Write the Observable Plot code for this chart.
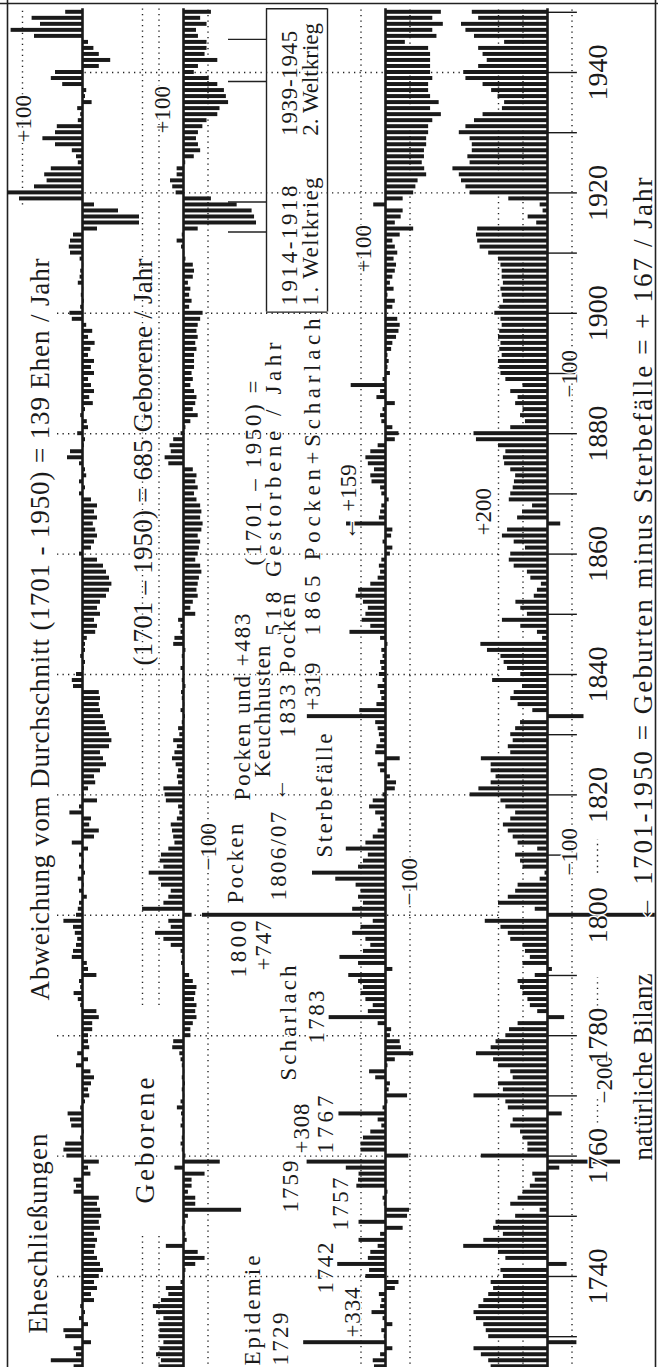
<!DOCTYPE html>
<html><head><meta charset="utf-8">
<script src="https://cdn.jsdelivr.net/npm/d3@7"></script>
<script src="https://cdn.jsdelivr.net/npm/@observablehq/plot@0.6"></script>
<style>
html,body{margin:0;padding:0;background:#fff;}
#chart{position:relative;width:658px;height:1367px;overflow:hidden;background:#fff;}
#chart svg{position:absolute;left:0;top:0;}
</style></head><body><div id="chart"></div>
<script>
// ---------- data (deviation from the 1701-1950 average, per year) ----------
const firstYear = 1725;
const eheschliessungen = [
  14, 52, 10, 14, -15, 28, 31, -10, 5, -5,
  3, -20, -15, -25, -20, -28, -35, -30, -25, -20,
  -22, -25, -20, -30, -28, -32, -30, -25, -28, 14,
  10, 14, -14, -10, -28, 26, 31, 28, 3, -3,
  18, 20, 24, 3, -5, -12, -10, -15, -20, -14,
  10, -10, 8, -12, -10, -10, -17, -17, -28, -24,
  3, 7, 14, 3, 5, -24, -10, -8, 17, 15,
  10, 8, 12, 15, 31, 10, 7, 5, -8, 5,
  -3, 7, -5, 5, -3, 5, -10, 17, -20, -28,
  -12, -15, 21, 5, -25, -3, -10, -22, -20, -30,
  -40, -35, -30, -45, -49, -45, -40, -38, -35, -30,
  -28, -30, -28, 15, 17, 10, -3, -5, 3, -5,
  -5, -8, -22, -25, -20, -30, -25, -30, -40, -45,
  -49, -45, -40, -35, -25, 5, -15, -20, -25, -22,
  -18, -25, -20, -25, -15, 5, -5, 5, -7, -5,
  5, 25, 20, -3, -5, 8, -10, -8, 3, -5,
  -18, -12, -20, -15, -10, -20, -15, -20, -10, -14,
  -21, -10, -17, -7, 17, 21, 3, -3, 2, -2,
  7, 4, 3, -2, 4, 20, 22, 20, 15, -25,
  -95, -95, -60, -20, 105, 125, 80, 59, 63, 52,
  7, 10, 17, 45, 66, 45, 42, 7, 3, 8,
  -16, -5, -7, 33, 52, 45, -28, -47, -28, -19,
  -10, 80, 119, 70, 84, 28
];
const geborene = [
  100, 90, 110, 96, 80, 100, 96, 100, 80, 110,
  123, 90, 60, 70, 10, -5, -10, -50, -88, -60,
  70, -15, -10, 5, -10, -20, -237, -50, -50, -20,
  -35, -35, -88, 35, -150, -10, 5, 10, 5, -5,
  10, 5, 8, 25, 10, -5, 5, -8, 5, -5,
  5, 10, 15, 44, 40, -30, -30, -40, -55, -50,
  -55, -45, -50, -55, -40, -25, -5, 8, 5, 10,
  50, 80, 114, 50, 60, -35, 167, 80, 60, 50,
  90, 100, 140, 80, 95, 90, 60, 35, 40, 45,
  50, 25, 15, 20, 70, 75, 80, 20, 25, 20,
  30, 45, 35, 25, 40, 15, 20, 5, -8, 10,
  -5, 5, 8, -10, 5, -3, 10, -5, 5, -10,
  40, 35, 10, 10, 20, -50, -30, -40, -60, -55,
  -60, -65, -75, -70, -50, -60, -65, -70, -60, -75,
  -80, -70, -75, -70, -55, -45, -60, -50, -55, -40,
  60, 75, 50, 55, 40, 10, -10, -30, -60, -40,
  -50, -55, -45, -30, -40, -35, -45, -45, -45, -55,
  -50, -60, -55, -60, -70, -80, -25, -35, -25, -30,
  -20, -40, -45, -40, -10, -5, 8, 26, 5, -60,
  -298, -290, -280, -219, -114, 30, 44, 53, 26, 26,
  -9, -44, -70, -61, -53, -61, -79, -96, -140, -149,
  -184, -175, -167, -140, -105, -44, -61, -140, -88, -96,
  -96, -61, -53, -96, -70, -114
];
const sterbefaelle = [
  45, 50, 20, -30, 334, 5, 15, -30, 10, 55,
  20, 15, 25, -40, -55, 80, 65, 195, 70, 60,
  30, 108, 20, -72, 108, -90, -98, 5, 10, -10,
  117, 110, 108, 160, 320, -95, 100, 100, 90, 60,
  15, 30, 190, 10, -10, -90, -15, -20, 40, 65,
  -10, -40, -115, -65, -60, -20, -25, 30, 230, 70,
  50, 80, 100, 90, 110, 150, -30, 110, 186, 90,
  60, 80, 134, 100, 50, 747, 134, 90, 110, 100,
  120, 203, 298, 110, 90, 70, 160, 80, 50, 30,
  15, 20, 40, 65, 50, 10, -40, -45, -20, 20,
  30, -60, 40, 35, 20, 25, 30, 40, 319, 105,
  35, 15, 20, 30, 10, 25, 15, 20, 10, 15,
  -10, 20, 145, 60, 95, 80, 70, 90, 120, 110,
  60, 30, 20, 25, 15, -20, -30, 10, -25, -30,
  159, 25, 20, 15, -15, 15, 20, 55, 60, 45,
  70, 80, 60, 30, -40, -55, -30, 15, 20, 10,
  -40, 35, 20, 140, 10, -20, -10, -15, -10, -25,
  -30, -45, -55, -60, -50, -5, -30, -40, -10, -35,
  -20, -30, -40, -45, -35, -50, -40, -30, -60, -115,
  -40, -64, -72, 48, -72, -115, -124, -133, -168, -160,
  -150, -159, -159, -168, -168, -176, -176, -193, -228, -184,
  -219, -184, -176, -176, -193, -184, -184, -184, -184, -176,
  -81, -210, -193, -236, -193, -228
];
const bilanz = [
  230, 240, 270, 300, -120, 240, 250, 260, 290, 300,
  280, 260, 240, 220, 230, 180, 190, -80, 170, 200,
  342, 260, 180, 220, 210, 130, 30, 150, 120, 100,
  70, 50, 60, -50, -298, 270, 80, 80, 100, 110,
  150, 140, -60, 160, 170, 300, 180, 200, 140, 150,
  200, 220, 290, 230, 210, 170, 155, 120, -70, 40,
  70, 80, 100, 110, 120, 50, -20, 100, 70, 90,
  100, 150, 160, 190, 254, -440, 50, 200, 160, 130,
  120, 30, 10, 100, 110, 130, 40, 120, 140, 160,
  180, 150, 130, 170, 190, 316, 280, 230, 210, 230,
  230, 270, 150, 160, 140, 150, 130, 110, -149, 60,
  120, 150, 136, 102, 224, 109, 163, 177, 190, 245,
  272, 20, 41, 109, 184, 82, 109, 129, 54, 41,
  25, 68, 82, 136, 156, 150, 90, 136, 184, 163,
  -54, 122, 102, 61, 156, 150, 140, 135, 130, 150,
  175, 180, 170, 200, 290, 300, 150, 90, 110, 100,
  130, 120, 150, 100, 170, 190, 195, 200, 185, 195,
  190, 200, 195, 185, 190, 215, 195, 180, 185, 190,
  180, 185, 185, 190, 200, 240, 275, 285, 290, 285,
  44, 79, 18, 30, 158, 316, 333, 351, 360, 386,
  316, 325, 307, 307, 316, 360, 333, 298, 263, 184,
  175, 202, 228, 263, 333, 342, 281, 246, 263, 281,
  175, 298, 333, 351, 281, 307
];
const yearLabels = [1740, 1760, 1780, 1800, 1820, 1840, 1860, 1880, 1900, 1920, 1940];
const yearTicks = d3.range(1730, 1951, 10);

// ---------- layout ----------
const W = 658, H = 1367;
const yDomain = [1951.96, 1724.88];      // top -> bottom
const FONT = "Liberation Serif";
const years = d3.range(firstYear, firstYear + eheschliessungen.length);
const rows = vals => years.map((year, i) => ({year, v: vals[i]}));
const TOP = 1950.6, BOT = 1724.5;
const DOT = "1.3,4.2";

function layer(xDomain, marks) {
  const svg = Plot.plot({
    width: W, height: H, margin: 0,
    style: {background: "transparent", overflow: "visible"},
    x: {type: "linear", domain: xDomain, range: [0, W], axis: null},
    y: {type: "linear", domain: yDomain, range: [0, H], axis: null},
    marks
  });
  document.getElementById("chart").appendChild(svg);
  return svg;
}
const px = [0, W];  // identity x for frame/annotation layer

function panel(vals, base, k, refs) {
  const dom = [base / k, (base - W) / k];
  const marks = refs.map(r => Plot.ruleX([r.v], {y1: r.y1, y2: r.y2, stroke: "#222", strokeWidth: 1.4, strokeDasharray: DOT}));
  marks.push(Plot.rect(rows(vals), {x1: d => 0, x2: "v", y1: d => d.year + 0.33, y2: d => d.year - 0.33, fill: "#1a1a1a"}));
  marks.push(Plot.ruleX([0], {y1: TOP, y2: BOT, stroke: "#1a1a1a", strokeWidth: 2.6}));
  return {dom, marks};
}

// ---------- background grid & frame ----------
layer(px, [
  Plot.ruleY(yearLabels, {x1: 57, x2: 500, stroke: "#222", strokeWidth: 1.4, strokeDasharray: DOT}),
  Plot.ruleX([7], {y1: 1952, y2: 1724, stroke: "#222", strokeWidth: 1.6}),
  Plot.ruleX([655], {y1: 1952, y2: 1724, stroke: "#222", strokeWidth: 1.6}),
  Plot.ruleY([1951.45], {x1: 0, x2: W, stroke: "#222", strokeWidth: 1.6}),
  // World-war box with leader lines
  Plot.ruleX([266, 327], {y1: 1950.6, y2: 1900.2, stroke: "#222", strokeWidth: 1.4}),
  Plot.ruleY([1950.6, 1900.2], {x1: 266, x2: 327, stroke: "#222", strokeWidth: 1.4}),
  Plot.ruleY([1945.5, 1938.5, 1918.5, 1913.5], {x1: 228, x2: 266, stroke: "#222", strokeWidth: 1.4}),
  // -200 dotted bits of the Bilanz
  Plot.ruleX([597], {y1: 1765.5, y2: 1770, stroke: "#222", strokeWidth: 1.4, strokeDasharray: DOT}),
  Plot.ruleX([597], {y1: 1784, y2: 1789.6, stroke: "#222", strokeWidth: 1.4, strokeDasharray: DOT}),
  Plot.ruleX([597], {y1: 1807, y2: 1812.5, stroke: "#222", strokeWidth: 1.4, strokeDasharray: DOT})
]);

// ---------- panels ----------
const pE = panel(eheschliessungen, 82, 0.60, [
  {v: 100, y1: 1918, y2: TOP}, {v: -100, y1: 1800.5, y2: TOP}, {v: -100, y1: 1785, y2: 1799}, {v: -100, y1: BOT, y2: 1747}
]);
layer(pE.dom, pE.marks);
const pG = panel(geborene, 183, 0.245, [
  {v: 100, y1: 1800.5, y2: TOP}, {v: 100, y1: 1785, y2: 1799}, {v: 100, y1: BOT, y2: 1747}, {v: -100, y1: BOT, y2: TOP}
]);
layer(pG.dom, pG.marks);
const pS = panel(sterbefaelle, 385, 0.245, [
  {v: 100, y1: BOT, y2: TOP}, {v: -100, y1: BOT, y2: TOP}
]);
layer(pS.dom, pS.marks);
const pB = panel(bilanz, 547, 0.245, [
  {v: 200, y1: BOT, y2: TOP}, {v: 100, y1: BOT, y2: TOP}, {v: -100, y1: BOT, y2: TOP}
]);
pB.marks.push(Plot.ruleY(yearTicks, {x1: 0, x2: -122, stroke: "#1a1a1a", strokeWidth: 1.4}));
layer(pB.dom, pB.marks);

// ---------- texts (x in px, y = year where the rotated text starts, len = drawn length) ----------
const bigTexts = [
  {x: 38, y: 1730.53, len: 200, t: "Eheschließungen"},
  {x: 40, y: 1785.85, len: 742, t: "Abweichung vom Durchschnitt (1701 - 1950) = 139 Ehen / Jahr"},
  {x: 145, y: 1752.13, len: 126, t: "Geborene"},
  {x: 143, y: 1841.5, len: 407, t: "(1701 – 1950) = 685 Geborene / Jahr"},
  {x: 643, y: 1759.27, len: 187, t: "natürliche Bilanz"},
  {x: 643, y: 1798.8, len: 745, t: "← 1701-1950 = Geburten minus Sterbefälle = + 167 / Jahr"}
];
const smallTexts = [
  {x: 253, y: 1858.11, len: 185, t: "(1701 – 1950) ="},
  {x: 273, y: 1846.48, len: 293, t: "518 Gestorbene / Jahr"},
  {x: 312, y: 1846.48, len: 317, t: "1865 Pocken+Scharlach"},
  {x: 348, y: 1862.26, len: 70, t: "← +159"},
  {x: 289, y: 1901.3, len: 120, t: "1914-1918"},
  {x: 310, y: 1901.3, len: 128, t: "1. Weltkrieg"},
  {x: 289, y: 1929.5, len: 105, t: "1939-1945"},
  {x: 310, y: 1929.5, len: 112, t: "2. Weltkrieg"},
  {x: 23, y: 1928.37, len: 0, t: "+100"},
  {x: 162, y: 1929.87, len: 0, t: "+100"},
  {x: 363, y: 1906.78, len: 0, t: "+100"},
  {x: 483, y: 1863.09, len: 0, t: "+200"},
  {x: 569, y: 1886.01, len: 0, t: "−100"},
  {x: 569, y: 1806.61, len: 0, t: "−100"},
  {x: 604, y: 1768.74, len: 0, t: "−200"},
  {x: 409, y: 1801.63, len: 0, t: "−100"},
  {x: 208, y: 1807.44, len: 0, t: "−100"},
  {x: 235, y: 1801.96, len: 80, t: "Pocken"},
  {x: 278, y: 1802.46, len: 122, t: "1806/07 ←"},
  {x: 242, y: 1819.07, len: 187, t: "Pocken und +483"},
  {x: 262, y: 1822.89, len: 132, t: "Keuchhusten"},
  {x: 287, y: 1829.53, len: 144, t: "1833 Pocken"},
  {x: 312, y: 1834.02, len: 48, t: "+319"},
  {x: 324, y: 1809.6, len: 124, t: "Sterbefälle"},
  {x: 238, y: 1789.67, len: 57, t: "1800"},
  {x: 263, y: 1790.83, len: 50, t: "+747"},
  {x: 288, y: 1772.56, len: 115, t: "Scharlach"},
  {x: 316, y: 1778.7, len: 53, t: "1783"},
  {x: 301, y: 1760.44, len: 50, t: "+308"},
  {x: 325, y: 1760.44, len: 58, t: "1767"},
  {x: 290, y: 1750.63, len: 52, t: "1759"},
  {x: 340, y: 1747.64, len: 53, t: "1757"},
  {x: 325, y: 1737.18, len: 51, t: "1742"},
  {x: 352, y: 1729.87, len: 50, t: "+334"},
  {x: 252, y: 1725.2, len: 110, t: "Epidemie"},
  {x: 280, y: 1725.2, len: 53, t: "1729"}
];
const common = {x: "x", y: "y", text: "t", rotate: -90, textAnchor: "start", lineAnchor: "middle",
  fontFamily: FONT, fill: "#1a1a1a", stroke: "white", strokeWidth: 3};
const textSvg = layer(px, [
  Plot.text(bigTexts, {...common, fontSize: 27}),
  Plot.text(smallTexts, {...common, fontSize: 23}),
  Plot.text(yearLabels, {x: () => 598, y: d => d, text: d => String(d), rotate: -90, textAnchor: "middle", lineAnchor: "middle",
    fontFamily: FONT, fontSize: 28, fill: "#1a1a1a", stroke: "white", strokeWidth: 3})
]);
// widen annotations to the length they have in the reference (typewriter-like spacing); never squeeze
const groups = textSvg.querySelectorAll('g[aria-label="text"]');
[bigTexts, smallTexts].forEach((arr, gi) => {
  groups[gi].querySelectorAll("text").forEach((el, i) => {
    const want = arr[i] && arr[i].len;
    if (want && el.getComputedTextLength() < want) {
      el.setAttribute("textLength", want);
      el.setAttribute("lengthAdjust", "spacing");
    }
  });
});
</script>
</body></html>
